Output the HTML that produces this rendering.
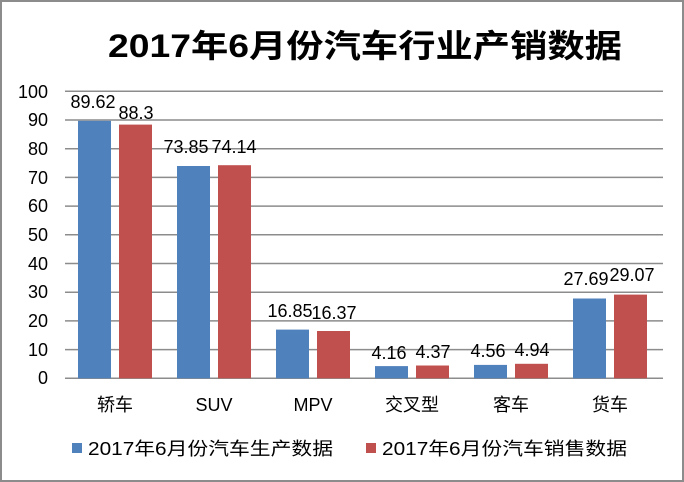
<!DOCTYPE html>
<html><head><meta charset="utf-8"><style>
body{margin:0;background:#fff}
svg{display:block}
text{font-family:"Liberation Sans","Noto Sans CJK SC",sans-serif;fill:#000}
</style></head><body>
<svg width="684" height="482" viewBox="0 0 684 482" xmlns="http://www.w3.org/2000/svg">
<rect x="1" y="1" width="682" height="480" fill="#fff" stroke="#8c8c8c" stroke-width="2"/>
<text x="108" y="57" font-size="32" font-weight="bold" textLength="514" lengthAdjust="spacingAndGlyphs">2017年6月份汽车行业产销数据</text>
<g stroke="#8c8c8c" stroke-width="1.5">
<line x1="65" x2="663" y1="91.3" y2="91.3"/><line x1="65" x2="663" y1="120" y2="120"/>
<line x1="65" x2="663" y1="148.7" y2="148.7"/><line x1="65" x2="663" y1="177.4" y2="177.4"/>
<line x1="65" x2="663" y1="206.1" y2="206.1"/><line x1="65" x2="663" y1="234.8" y2="234.8"/>
<line x1="65" x2="663" y1="263.5" y2="263.5"/><line x1="65" x2="663" y1="292.2" y2="292.2"/>
<line x1="65" x2="663" y1="320.9" y2="320.9"/><line x1="65" x2="663" y1="349.6" y2="349.6"/>
<line x1="65" x2="663" y1="378.3" y2="378.3"/>
</g>
<g font-size="18" text-anchor="end">
<text x="48" y="98">100</text><text x="48" y="126">90</text><text x="48" y="155">80</text>
<text x="48" y="184">70</text><text x="48" y="212">60</text><text x="48" y="241">50</text>
<text x="48" y="270">40</text><text x="48" y="298">30</text><text x="48" y="327">20</text>
<text x="48" y="356">10</text><text x="48" y="384">0</text>
</g>
<g fill="#4f81bd">
<rect x="78" y="120.8" width="33" height="257.5"/><rect x="177" y="166" width="33" height="212.3"/>
<rect x="276" y="329.6" width="33" height="48.7"/><rect x="375" y="366.1" width="33" height="12.2"/>
<rect x="474" y="364.9" width="33" height="13.4"/><rect x="573" y="298.5" width="33" height="79.8"/>
</g>
<g fill="#c0504d">
<rect x="119" y="124.6" width="33" height="253.7"/><rect x="218" y="165.2" width="33" height="213.1"/>
<rect x="317" y="331" width="33" height="47.3"/><rect x="416" y="365.5" width="33" height="12.8"/>
<rect x="515" y="363.8" width="33" height="14.5"/><rect x="614" y="294.6" width="33" height="83.7"/>
</g>
<g font-size="18" text-anchor="middle">
<text x="93" y="108">89.62</text><text x="136" y="119">88.3</text>
<text x="186" y="153">73.85</text><text x="234" y="153">74.14</text>
<text x="290" y="317">16.85</text><text x="334" y="319">16.37</text>
<text x="389" y="359">4.16</text><text x="433" y="358">4.37</text>
<text x="488" y="357">4.56</text><text x="532" y="356">4.94</text>
<text x="586" y="285">27.69</text><text x="632" y="281">29.07</text>
</g>
<g font-size="18" text-anchor="middle">
<text x="115" y="411">轿车</text><text x="214" y="411">SUV</text><text x="313" y="411">MPV</text>
<text x="412" y="411">交叉型</text><text x="511" y="411">客车</text><text x="610" y="411">货车</text>
</g>
<rect x="72" y="443" width="10" height="10" fill="#4f81bd"/>
<text x="88" y="455" font-size="18" textLength="245" lengthAdjust="spacingAndGlyphs">2017年6月份汽车生产数据</text>
<rect x="366" y="443" width="10" height="10" fill="#c0504d"/>
<text x="382" y="455" font-size="18" textLength="245" lengthAdjust="spacingAndGlyphs">2017年6月份汽车销售数据</text>
</svg>
</body></html>
